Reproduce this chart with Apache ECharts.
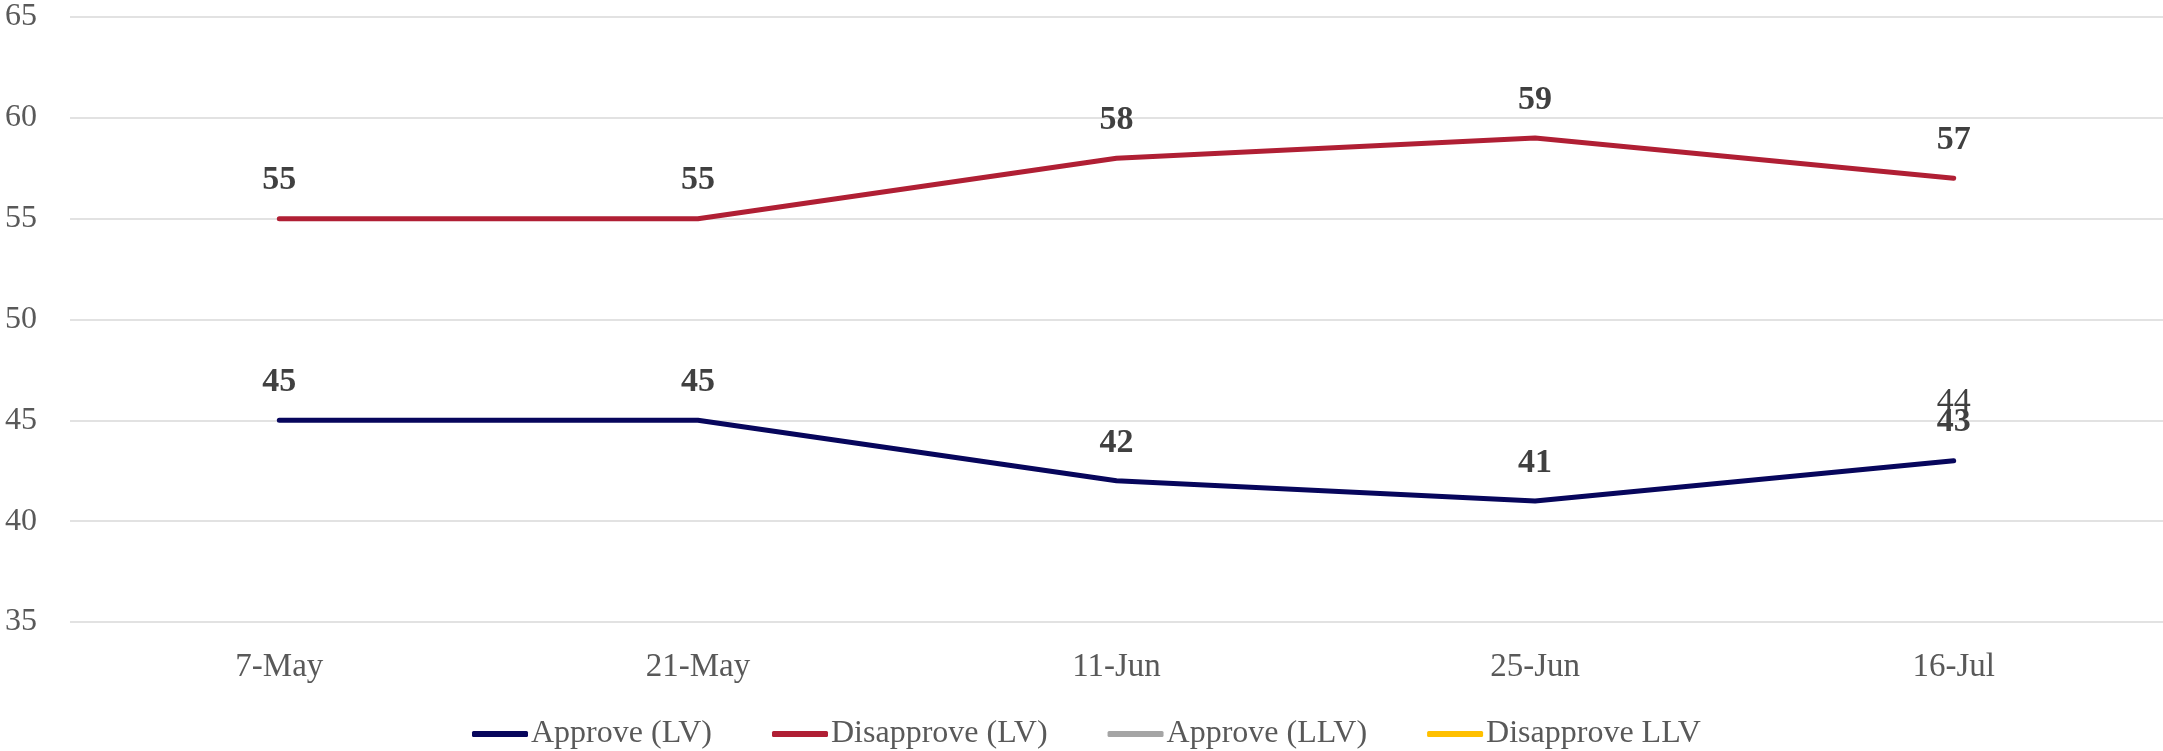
<!DOCTYPE html>
<html>
<head>
<meta charset="utf-8">
<script src="https://cdn.jsdelivr.net/npm/echarts@6/dist/echarts.min.js"></script>
<style>html,body{margin:0;padding:0;background:#fff;}#chart{width:2163px;height:751px;}</style>
</head>
<body>
<div id="chart"></div>
<script>
const categories = ['7-May', '21-May', '11-Jun', '25-Jun', '16-Jul'];
const approveLV = [45, 45, 42, 41, 43];
const disapproveLV = [55, 55, 58, 59, 57];
const approveLLV = [null, null, null, null, 44];
const disapproveLLV = [null, null, null, null, null];
const yTicks = { min: 35, max: 65, interval: 5 };

const FONT = '"Liberation Serif", "DejaVu Serif", serif';
const chart = echarts.init(document.getElementById('chart'));

function lineSeries(name, data, color, bold) {
  return {
    name: name,
    type: 'line',
    data: data,
    symbol: 'circle',
    symbolSize: 0,
    showSymbol: true,
    connectNulls: false,
    lineStyle: { width: 5, color: color, cap: 'round', join: 'round' },
    itemStyle: { color: color },
    label: {
      show: true,
      position: 'top',
      distance: 21,
      fontFamily: FONT,
      fontSize: 34,
      fontWeight: bold ? 'bold' : 'normal',
      color: '#404040'
    },
    emphasis: { disabled: true },
    animation: false
  };
}

chart.setOption({
  backgroundColor: '#fff',
  animation: false,
  grid: { left: 70, top: 17, width: 2100, height: 605, containLabel: false },
  legend: {
    left: 467,
    top: 713,
    itemWidth: 56,
    itemHeight: 6,
    itemGap: 60,
    icon: 'roundRect',
    textStyle: { fontFamily: FONT, fontSize: 32, color: '#595959', padding: [0, 0, 0, -2] },
    data: ['Approve (LV)', 'Disapprove (LV)', 'Approve (LLV)', 'Disapprove LLV']
  },
  xAxis: {
    type: 'category',
    data: categories,
    boundaryGap: true,
    axisLine: { show: false },
    axisTick: { show: false },
    axisLabel: { fontFamily: FONT, fontSize: 33, color: '#595959', margin: 29 }
  },
  yAxis: {
    type: 'value',
    min: yTicks.min,
    max: yTicks.max,
    interval: yTicks.interval,
    axisLine: { show: false },
    axisTick: { show: false },
    axisLabel: { fontFamily: FONT, fontSize: 32, color: '#595959', margin: 33 },
    splitLine: { lineStyle: { color: '#d9d9d9', width: 1.5 } }
  },
  series: [
    lineSeries('Approve (LV)', approveLV, '#07065c', true),
    lineSeries('Disapprove (LV)', disapproveLV, '#b01f34', true),
    lineSeries('Approve (LLV)', approveLLV, '#a5a5a5', false),
    lineSeries('Disapprove LLV', disapproveLLV, '#ffc000', false)
  ]
});
</script>
</body>
</html>
